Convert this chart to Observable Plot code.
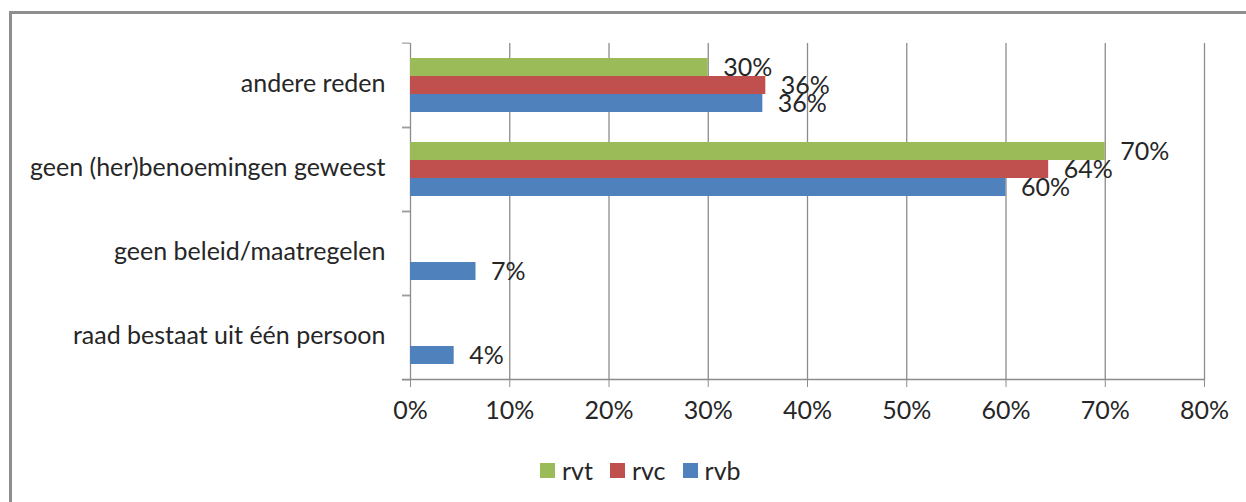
<!DOCTYPE html>
<html>
<head>
<meta charset="utf-8">
<script src="https://cdn.jsdelivr.net/npm/d3@7"></script>
<script src="https://cdn.jsdelivr.net/npm/@observablehq/plot@0.6"></script>
<style>
  html, body { margin: 0; padding: 0; background: #fff; overflow: hidden; }
  #wrap { position: relative; width: 1246px; height: 502px; font-family: Lato, "Open Sans", sans-serif; }
  #border { position: absolute; left: 9px; top: 11px; width: 1300px; height: 600px; border: 3px solid #8e8e8e; box-sizing: border-box; }
  #chart { position: absolute; left: 0; top: 0; }
  #legend { position: absolute; left: 540px; top: 455px; display: flex; gap: 0; font-size: 25px; color: #262626; }
  .sw { display: flex; align-items: center; margin-right: 17px; }
  .sw i { display: inline-block; width: 15px; height: 15px; margin-right: 7px; }
</style>
</head>
<body>
<div id="wrap">
  <div id="border"></div>
  <div id="chart"></div>
  <div id="legend"></div>
</div>
<script>
const categories = ["andere reden", "geen (her)benoemingen geweest", "geen beleid/maatregelen", "raad bestaat uit één persoon"];
const seriesNames = ["rvt", "rvc", "rvb"];
const seriesColors = ["#9BBB59", "#C0504D", "#4F81BD"];
const rvt = [30.0, 70.0, null, null];
const rvc = [35.8, 64.3, null, null];
const rvb = [35.5, 60.0, 6.6, 4.4];
const xTicks = [0, 10, 20, 30, 40, 50, 60, 70, 80];

const seriesValues = {rvt, rvc, rvb};
const rows = [];
categories.forEach((c, i) => {
  seriesNames.forEach(s => {
    const v = seriesValues[s][i];
    if (v != null) rows.push({category: c, series: s, value: v});
  });
});

const W = 1246, H = 430, mT = 41, mB = 50, mL = 410, mR = 42;
const fyStep = (H - mT - mB) / categories.length;
const gray = "#8c8c8c";
const ink = "#262626";
const fs = 25;

const chart = Plot.plot({
  width: W,
  height: H,
  marginTop: mT,
  marginBottom: mB,
  marginLeft: mL,
  marginRight: mR,
  style: {fontFamily: "Lato, 'Open Sans', sans-serif", fontSize: fs + "px", color: ink, background: "transparent"},
  x: {domain: [0, 80], axis: null},
  y: {domain: seriesNames, paddingInner: 0, paddingOuter: 0.73, axis: null},
  fy: {domain: categories, padding: 0, axis: null},
  color: {domain: seriesNames, range: seriesColors},
  marks: [
    Plot.gridX(xTicks, {stroke: gray, strokeOpacity: 1, strokeWidth: 1.3}),
    Plot.barX(rows, {x: "value", y: "series", fy: "category", fill: "series"}),
    Plot.text(rows, {x: "value", y: "series", fy: "category", text: d => Math.round(d.value) + "%", textAnchor: "start", dx: 15, fill: ink, fontSize: fs}),
    Plot.frame({anchor: "bottom", facetAnchor: "bottom", stroke: gray, strokeWidth: 1.3, insetLeft: -8}),
    Plot.axisX({ticks: xTicks, tickFormat: d => d + "%", tickSize: 8, tickPadding: 14, stroke: gray, fill: ink, fontSize: fs, label: null}),
    Plot.axisFy({anchor: "left", tickSize: 0, tickPadding: 25, fill: ink, fontSize: fs, label: null, dy: -2}),
    Plot.axisFy({anchor: "left", tickSize: 8, text: null, tickFormat: null, stroke: gray, label: null, dy: -fyStep / 2}),
    Plot.axisFy({anchor: "left", tickSize: 8, text: null, tickFormat: null, stroke: gray, label: null, dy: fyStep / 2})
  ]
});
document.getElementById("chart").appendChild(chart);

const legend = document.getElementById("legend");
seriesNames.forEach((s, i) => {
  const item = document.createElement("span");
  item.className = "sw";
  const box = document.createElement("i");
  box.style.background = seriesColors[i];
  item.appendChild(box);
  item.appendChild(document.createTextNode(s));
  legend.appendChild(item);
});
</script>
</body>
</html>
